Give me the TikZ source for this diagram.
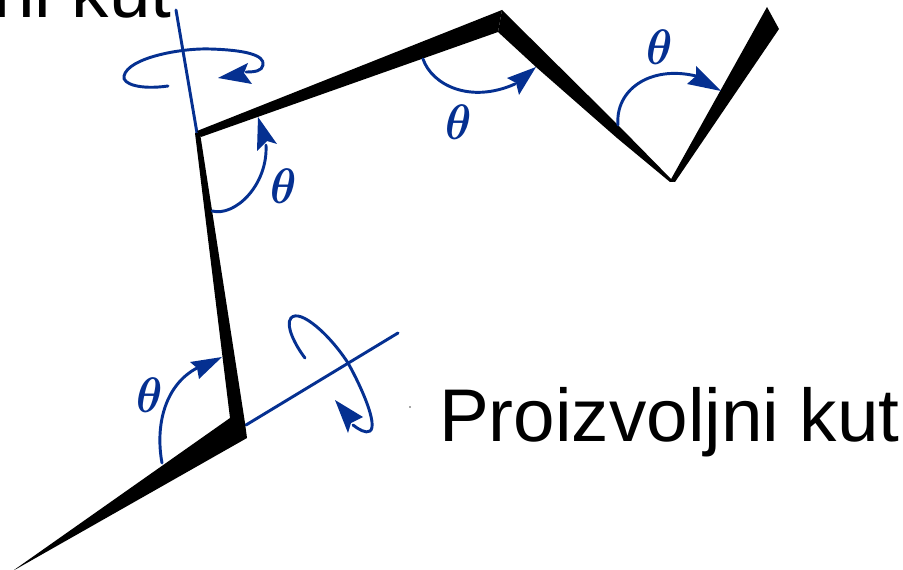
\documentclass[tikz,border=0pt]{standalone}
\usepackage{fontspec}
\setmainfont{Liberation Sans}
\definecolor{ab}{RGB}{5,48,145}
\tikzset{
 bar/.style={fill=black,draw=none},
 axisline/.style={draw=ab,line width=2.2pt,line cap=round},
 arcline/.style={draw=ab,line width=2.2pt,line cap=round},
 headfill/.style={fill=ab,draw=none},
 lab/.style={font=\fontsize{56}{56}\selectfont,inner sep=0pt,text=black},
 ang/.style={text=ab,inner sep=0pt,xscale=1.6,yscale=1.8,font=\fontsize{20}{20}\selectfont\boldmath}
}
\begin{document}
\begin{tikzpicture}[x=0.75pt,y=-0.75pt]
\useasboundingbox (0,0) rectangle (903,570);
\clip (0,0) rectangle (903,570);
% labels
\node[lab,anchor=base east] (top) at (172,18) {Proizvoljni kut};
\node[lab,anchor=base east] (bottom) at (900,441) {Proizvoljni kut};
% axes
\draw[axisline] (176,10) -- (197,133);
\draw[axisline] (246,425) -- (398,333);
% chain
\fill[bar] (14,570) -- (230,418) -- (195,133) -- (200,133) -- (245,423) -- (247,438) -- (18,568) -- cycle;
\fill[bar] (197,131) -- (502,10) -- (498,32) -- (201,137) -- cycle;
\fill[bar] (502,10) -- (618,125) -- (674,182) -- (670,182) -- (617,138) -- (536,67) -- (498,32) -- cycle;
\fill[bar] (670,181) -- (767,7) -- (779,29) -- (675,182) -- cycle;
% angle arcs
\draw[arcline] (212,211) .. controls (235,217) and (268,185) .. (266,145);
\fill[headfill] (258,117) -- (277,144) -- (267,141) -- (257,151) -- cycle;
\draw[arcline] (423,59) .. controls (432,85) and (470,104) .. (515,84);
\fill[headfill] (536,67) -- (519,95) -- (516,83) -- (507,78) -- cycle;
\draw[arcline] (618,125) .. controls (615,90) and (650,65) .. (696,76);
\fill[headfill] (721,91) -- (687,84) -- (696,76) -- (696,66) -- cycle;
\draw[arcline] (162,463) .. controls (155,425) and (165,385) .. (197,368);
\fill[headfill] (222,357) -- (199,379) -- (197,368) -- (190,362) -- cycle;
% rotation arrows
\draw[arcline] (168,86) .. controls (140,90) and (122,84) .. (124,76) .. controls (128,58) and (180,48) .. (210,49) .. controls (245,50) and (265,55) .. (263,65) .. controls (262,71) and (255,72) .. (246,72);
\fill[headfill] (218,78) -- (248,63) -- (244,73) -- (252,84) -- cycle;
\draw[arcline] (305,358) .. controls (295,345) and (285,325) .. (291,318) .. controls (300,308) and (330,335) .. (348,363) .. controls (362,388) and (378,425) .. (370,431) .. controls (366,434) and (358,429) .. (353,425);
\fill[headfill] (335,400) -- (363,417) -- (351,423) -- (348,433) -- cycle;
% theta labels
\node[ang] (t1) at (284,186) {$\theta$};
\node[ang] (t2) at (459,122) {$\theta$};
\node[ang] (t3) at (660,47) {$\theta$};
\node[ang] (t4) at (150,395) {$\theta$};
% speck
\fill[black!70] (410,407) circle (0.8);
\end{tikzpicture}
\end{document}
